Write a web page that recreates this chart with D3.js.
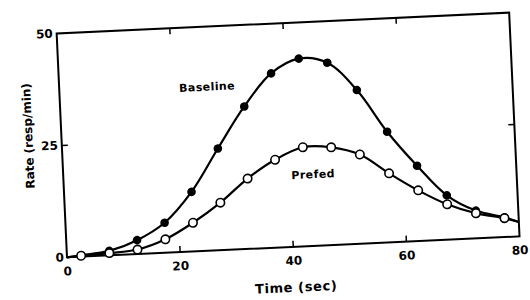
<!DOCTYPE html>
<html>
<head>
<meta charset="utf-8">
<script src="https://cdn.jsdelivr.net/npm/d3@7"></script>
<style>
  body { margin: 0; background: #fff; }
  text { font-family: "DejaVu Sans", sans-serif; font-weight: bold; fill: #000; }
</style>
</head>
<body>
<svg id="chart" width="530" height="300"></svg>
<script>
// time points (sec) the curves are drawn through; markers sit on the odd 2.5s
var times    = [0, 2.5, 7.5, 12.5, 17.5, 22.5, 27.5, 32.5, 37.5, 42.5, 47.5, 52.5, 57.5, 62.5, 67.5, 72.5, 77.5, 80];
var baseline = [0, 0.3, 1.0, 3.1, 6.7, 13.3, 22.7, 31.8, 38.9, 41.9, 40.7, 34.3, 24.7, 16.8, 9.9, 6.2, 4.4, 3.2];
var prefed   = [0, 0.2, 0.5, 1.0, 3.0, 6.4, 10.6, 15.7, 19.6, 22.1, 21.8, 19.9, 15.4, 11.3, 7.9, 5.6, 4.2, 3.2];
var xTicks = [20, 40, 60];
var xLabels = [0, 20, 40, 60, 80];
var yTicks = [25];
var yLabels = [0, 25, 50];

var W = 453, H = 224;
var svg = d3.select("#chart");

// the scanned figure is tilted slightly
var g = svg.append("g")
  .attr("transform", "translate(67,257.3) rotate(-2.65) translate(0," + (-H) + ")");

var x = d3.scaleLinear().domain([0, 80]).range([0, W]);
var y = d3.scaleLinear().domain([0, 50]).range([H, 0]);

// frame
g.append("rect")
  .attr("x", 0).attr("y", 0).attr("width", W).attr("height", H)
  .attr("fill", "none").attr("stroke", "#000").attr("stroke-width", 2);

// inward ticks
g.selectAll(".xt").data(xTicks).enter().append("path")
  .attr("d", d => "M" + x(d) + "," + H + "v-6M" + x(d) + ",0v6")
  .attr("stroke", "#000").attr("stroke-width", 1.5);
g.selectAll(".yt").data(yTicks).enter().append("path")
  .attr("d", d => "M0," + y(d) + "h6M" + W + "," + y(d) + "h-6")
  .attr("stroke", "#000").attr("stroke-width", 1.5);

// tick labels
g.selectAll(".xl").data(xLabels).enter().append("text")
  .attr("x", d => x(d)).attr("y", H + 18)
  .attr("text-anchor", "middle").attr("font-size", 12)
  .text(d => d);
g.selectAll(".yl").data(yLabels).enter().append("text")
  .attr("x", d => d === 0 ? -3 : -4).attr("y", d => y(d) + 4)
  .attr("text-anchor", "end").attr("font-size", 12)
  .text(d => d);

// axis titles
g.append("text")
  .attr("transform", "translate(-29," + (H - 123) + ") rotate(-90)")
  .attr("text-anchor", "middle").attr("font-size", 12)
  .text("Rate (resp/min)");
g.append("text")
  .attr("x", W / 2 + 1).attr("y", H + 45)
  .attr("text-anchor", "middle").attr("font-size", 13).attr("letter-spacing", 0.6)
  .text("Time (sec)");

var line = d3.line()
  .x(d => x(d[0])).y(d => y(d[1]))
  .curve(d3.curveCatmullRom.alpha(0.5));

var baseData = times.map((t, i) => [t, baseline[i]]);
var preData = times.map((t, i) => [t, prefed[i]]);

g.append("path").datum(baseData).attr("d", line)
  .attr("fill", "none").attr("stroke", "#000").attr("stroke-width", 2.2);
g.append("path").datum(preData).attr("d", line)
  .attr("fill", "none").attr("stroke", "#000").attr("stroke-width", 2.2);

var isMarker = d => d[0] % 5 === 2.5;

g.selectAll(".bm").data(baseData.filter(isMarker)).enter().append("circle")
  .attr("cx", d => x(d[0])).attr("cy", d => y(d[1])).attr("r", 4.3)
  .attr("fill", "#000");
g.selectAll(".pm").data(preData.filter(isMarker)).enter().append("circle")
  .attr("cx", d => x(d[0])).attr("cy", d => y(d[1])).attr("r", 4.2)
  .attr("fill", "#fff").attr("stroke", "#000").attr("stroke-width", 1.6);

// series labels
g.append("text")
  .attr("x", x(26.1)).attr("y", y(36.6) + 4)
  .attr("text-anchor", "middle").attr("font-size", 11).attr("letter-spacing", 0.4)
  .text("Baseline");
g.append("text")
  .attr("x", x(44.1)).attr("y", y(16.0) + 4)
  .attr("text-anchor", "middle").attr("font-size", 11).attr("letter-spacing", 0.4)
  .text("Prefed");
</script>
</body>
</html>
